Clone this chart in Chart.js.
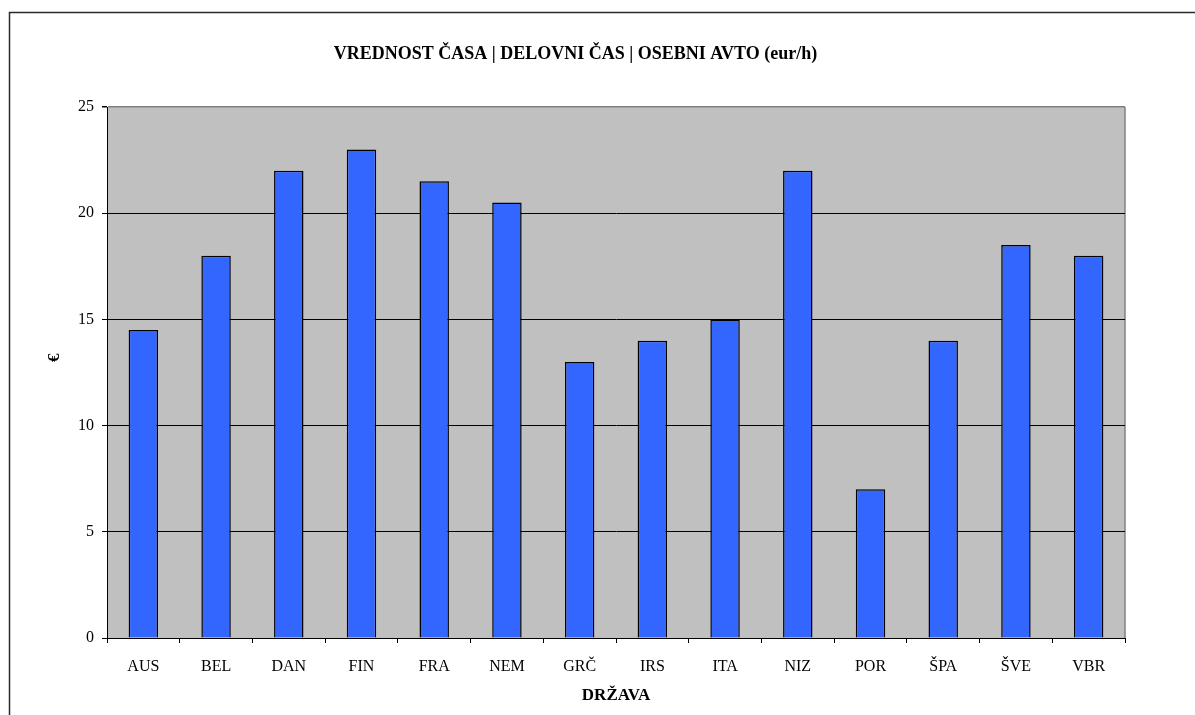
<!DOCTYPE html>
<html>
<head>
<meta charset="utf-8">
<script src="https://cdn.jsdelivr.net/npm/chart.js@4.4.1/dist/chart.umd.min.js"></script>
<style>
  html, body { margin: 0; padding: 0; background: #fff; }
  canvas { display: block; }
</style>
</head>
<body>
<canvas id="chart" width="1195" height="715"></canvas>
<script>
// podatki
const drzave = ['AUS', 'BEL', 'DAN', 'FIN', 'FRA', 'NEM', 'GRČ', 'IRS', 'ITA', 'NIZ', 'POR', 'ŠPA', 'ŠVE', 'VBR'];
const vrednosti = [14.5, 18, 22, 23, 21.5, 20.5, 13, 14, 15, 22, 7, 14, 18.5, 18];
const naslov = 'VREDNOST ČASA | DELOVNI ČAS | OSEBNI AVTO (eur/h)';
const naslovX = 'DRŽAVA';
const naslovY = '       €';

const serif = 'Liberation Serif';

// ozadje grafa in okvir
const ozadje = {
    id: 'ozadje',
    beforeDraw(chart) {
        const { ctx, chartArea: a } = chart;
        ctx.save();
        ctx.fillStyle = '#C0C0C0';
        ctx.fillRect(a.left, a.top, a.right - a.left, a.bottom - a.top);
        ctx.strokeStyle = '#808080';
        ctx.lineWidth = 1.5;
        ctx.beginPath();
        ctx.moveTo(a.right, a.top);
        ctx.lineTo(a.right, a.bottom);
        ctx.stroke();
        // zunanji okvir
        ctx.strokeStyle = '#2a2a2a';
        ctx.lineWidth = 1.5;
        ctx.beginPath();
        ctx.moveTo(9.5, 715);
        ctx.lineTo(9.5, 12.5);
        ctx.lineTo(1195, 12.5);
        ctx.stroke();
        ctx.restore();
    }
};

const chart = new Chart(document.getElementById('chart'), {
    type: 'bar',
    data: {
        labels: drzave,
        datasets: [{
            data: vrednosti,
            backgroundColor: '#3366FF',
            borderColor: '#000',
            borderWidth: 1.5,
            barPercentage: 0.405,
            categoryPercentage: 1
        }]
    },
    options: {
        responsive: false,
        animation: false,
        layout: { padding: { left: 26, right: 70, top: 0, bottom: 0 } },
        plugins: {
            legend: { display: false },
            tooltip: { enabled: false },
            title: {
                display: true,
                text: naslov,
                color: '#000',
                font: { family: serif, size: 18, weight: 'bold', lineHeight: 1.2 },
                padding: { top: 44, bottom: 41.4 }
            }
        },
        scales: {
            x: {
                afterFit(s) { s.height = 77; },
                grid: {
                    offset: true,
                    drawOnChartArea: false,
                    tickLength: 5,
                    tickColor: '#000'
                },
                border: { color: '#000', width: 1 },
                ticks: {
                    color: '#000',
                    padding: 14,
                    font: { family: serif, size: 16 },
                    maxRotation: 0,
                    autoSkip: false
                },
                title: {
                    display: true,
                    text: naslovX,
                    color: '#000',
                    font: { family: serif, size: 17, weight: 'bold' },
                    padding: { top: 0, bottom: 9 }
                }
            },
            y: {
                min: 0,
                max: 25,
                afterFit(s) { s.width = 81; },
                grid: {
                    color: c => (c.tick && c.tick.value === 25 ? '#808080' : '#000'),
                    lineWidth: c => (c.tick && c.tick.value === 25 ? 1.5 : 1),
                    tickLength: 5,
                    tickColor: '#000'
                },
                border: { color: '#000', width: 1 },
                ticks: {
                    stepSize: 5,
                    color: '#000',
                    padding: 8,
                    font: { family: serif, size: 16 }
                },
                title: {
                    display: true,
                    text: naslovY,
                    color: '#000',
                    font: { family: serif, size: 17, weight: 'bold' },
                    padding: { top: 18, bottom: 0 }
                }
            }
        }
    },
    plugins: [ozadje]
});
</script>
</body>
</html>
